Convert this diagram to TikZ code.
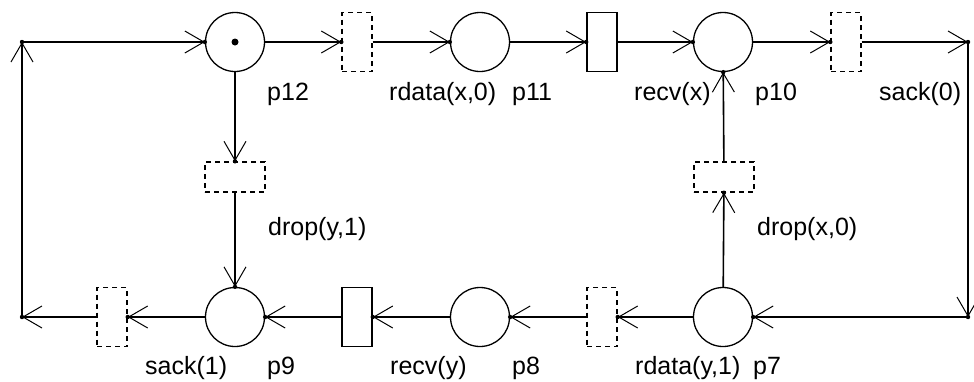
\documentclass[tikz,border=0pt]{standalone}
\usepackage{fontspec}
\setmainfont{Liberation Sans}
\usetikzlibrary{arrows.meta,decorations.markings}
\begin{document}
\begin{tikzpicture}[x=1pt,y=-1pt,
  place/.style={circle,draw,line width=1.3pt,minimum size=59pt,inner sep=0pt},
  trans/.style={rectangle,draw,line width=1.6pt,minimum width=30pt,minimum height=59pt,inner sep=0pt},
  dtrans/.style={trans,line width=1.4pt,dash pattern=on 5pt off 4pt},
  vdtrans/.style={dtrans,minimum width=60pt,minimum height=30pt},
  arc/.style={line width=1.6pt,-{Straight Barb[length=19pt,width=22pt,line width=1pt]},
    postaction={decorate},
    decoration={markings,mark=at position 1 with {\fill (0,0) circle (2.2pt);}}},
  lbl/.style={anchor=base west,inner sep=0pt,font=\fontsize{25}{30}\selectfont}]
\useasboundingbox (0,0) rectangle (974,381);
\fill[white] (0,0) rectangle (974,381);
% places and transitions
\node[place] (p12) at (235,42) {};
\fill (p12.center) circle (3.5pt);
\node[dtrans] (t1) at (357,42) {};
\node[place] (p11) at (480,42) {};
\node[trans] (t2) at (602,42) {};
\node[place] (p10) at (723,42) {};
\node[dtrans] (t3) at (846,42) {};
\coordinate (tr) at (968,42);
\coordinate (br) at (968,317);
\node[place] (p7) at (723,317) {};
\node[dtrans] (t4) at (602,317) {};
\node[place] (p8) at (480,317) {};
\node[trans] (t5) at (357,317) {};
\node[place] (p9) at (235,317) {};
\node[dtrans] (t6) at (112,317) {};
\coordinate (bl) at (22,317);
\coordinate (tl) at (22,42);
\node[vdtrans] (t7) at (235,177) {};
\node[vdtrans] (t8) at (724,177) {};
% arcs
\draw[arc] (tl) -- (p12);
\draw[arc] (p12) -- (t1);
\draw[arc] (t1) -- (p11);
\draw[arc] (p11) -- (t2);
\draw[arc] (t2) -- (p10);
\draw[arc] (p10) -- (t3);
\draw[arc] (t3) -- (tr);
\draw[arc] (tr) -- (br);
\draw[arc] (br) -- (p7);
\draw[arc] (p7) -- (t4);
\draw[arc] (t4) -- (p8);
\draw[arc] (p8) -- (t5);
\draw[arc] (t5) -- (p9);
\draw[arc] (p9) -- (t6);
\draw[arc] (t6) -- (bl);
\draw[arc] (bl) -- (tl);
\draw[arc] (p12) -- (t7);
\draw[arc] (t7) -- (p9);
\draw[arc] (p7) -- (t8);
\draw[arc] (t8) -- (p10);
% labels
\node[lbl] (l12) at (267,100) {p12};
\node[lbl] (lt1) at (389,100) {rdata(x,0)};
\node[lbl] (l11) at (512,100) {p11};
\node[lbl] (lt2) at (634,100) {recv(x)};
\node[lbl] (l10) at (755,100) {p10};
\node[lbl] (lt3) at (879,100) {sack(0)};
\node[lbl] (lt7) at (268,235) {drop(y,1)};
\node[lbl] (lt8) at (757,235) {drop(x,0)};
\node[lbl] (lt6) at (145,374) {sack(1)};
\node[lbl] (l9) at (267,374) {p9};
\node[lbl] (lt5) at (390,374) {recv(y)};
\node[lbl] (l8) at (512,374) {p8};
\node[lbl] (lt4) at (635,374) {rdata(y,1)};
\node[lbl] (l7) at (753,374) {p7};
\end{tikzpicture}
\end{document}
